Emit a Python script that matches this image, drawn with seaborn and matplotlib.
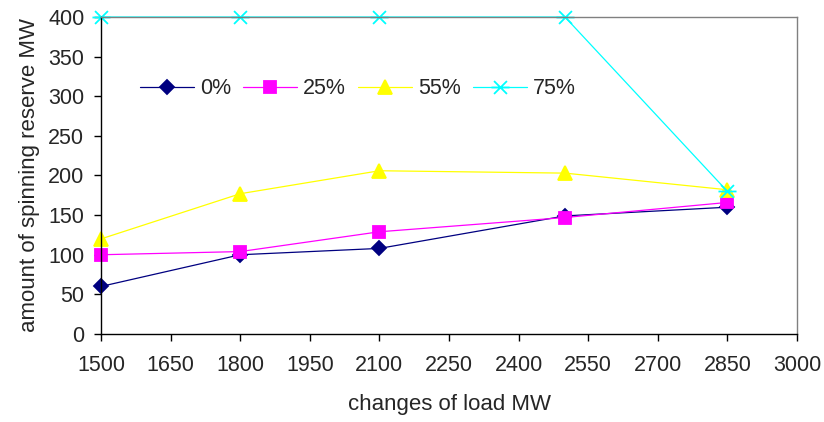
import numpy as np
import pandas as pd
import matplotlib
matplotlib.use("Agg")
import matplotlib.pyplot as plt
from matplotlib.path import Path
import seaborn as sns

# ---- data ----
load_mw = [1500, 1800, 2100, 2500, 2850]
series_names = ["0%", "25%", "55%", "75%"]
reserve_0 = [60, 100, 108, 149, 160]
reserve_25 = [100, 104, 129, 147, 166]
reserve_55 = [120, 177, 206, 203, 182]
reserve_75 = [400, 400, 400, 400, 180]
x_ticks = [1500, 1650, 1800, 1950, 2100, 2250, 2400, 2550, 2700, 2850, 3000]
y_ticks = [0, 50, 100, 150, 200, 250, 300, 350, 400]

sns.set_theme(style="white")
plt.rcParams["font.family"] = ["Liberation Sans", "DejaVu Sans"]

df = pd.DataFrame({
    "load": load_mw * 4,
    "reserve": reserve_0 + reserve_25 + reserve_55 + reserve_75,
    "series": sum([[n] * len(load_mw) for n in series_names], []),
})

star = Path([(-1, -1), (1, 1), (-1, 1), (1, -1), (-1.4, 0), (1.4, 0)],
            [Path.MOVETO, Path.LINETO, Path.MOVETO, Path.LINETO, Path.MOVETO, Path.LINETO])

styles = {
    "0%": dict(color="#000080", marker="D", ms=7),
    "25%": dict(color="#FF00FF", marker="s", ms=8),
    "55%": dict(color="#FFFF00", marker="^", ms=10),
    "75%": dict(color="#00FFFF", marker=star, ms=13),
}

fig = plt.figure(figsize=(8.24, 4.22), dpi=100)
ax = fig.add_axes([101 / 824, 1 - 334 / 422, 696 / 824, 317 / 422])

for name in series_names:
    st = styles[name]
    sub = df[df["series"] == name]
    sns.lineplot(data=sub, x="load", y="reserve", ax=ax, color=st["color"],
                 marker=st["marker"], markersize=st["ms"], linewidth=0.9,
                 markeredgecolor=st["color"], markerfacecolor=st["color"],
                 markeredgewidth=1.3, label=name, clip_on=False)

ax.set_xlim(1500, 3000)
ax.set_ylim(0, 400)
ax.set_xticks(x_ticks)
ax.set_yticks(y_ticks)
ax.tick_params(axis="both", labelsize=15.5, direction="out", length=5, width=1,
               color="black", bottom=True, left=True)
ax.tick_params(axis="x", pad=10)
ax.tick_params(axis="y", pad=7)

for side in ["left", "bottom"]:
    ax.spines[side].set_color("black")
    ax.spines[side].set_linewidth(1)
for side in ["top", "right"]:
    ax.spines[side].set_color("#808080")
    ax.spines[side].set_linewidth(1)

ax.set_xlabel("changes of load MW", fontsize=16, labelpad=13)
ax.set_ylabel("amount of spinning reserve MW", fontsize=16, labelpad=6)

ax.legend(loc="center", bbox_to_anchor=(0.369, 0.773), ncol=4, frameon=False,
          fontsize=15.5, handlelength=2.5, handletextpad=0.3, columnspacing=0.55,
          borderpad=0)

fig.savefig("out.png", dpi=100)
